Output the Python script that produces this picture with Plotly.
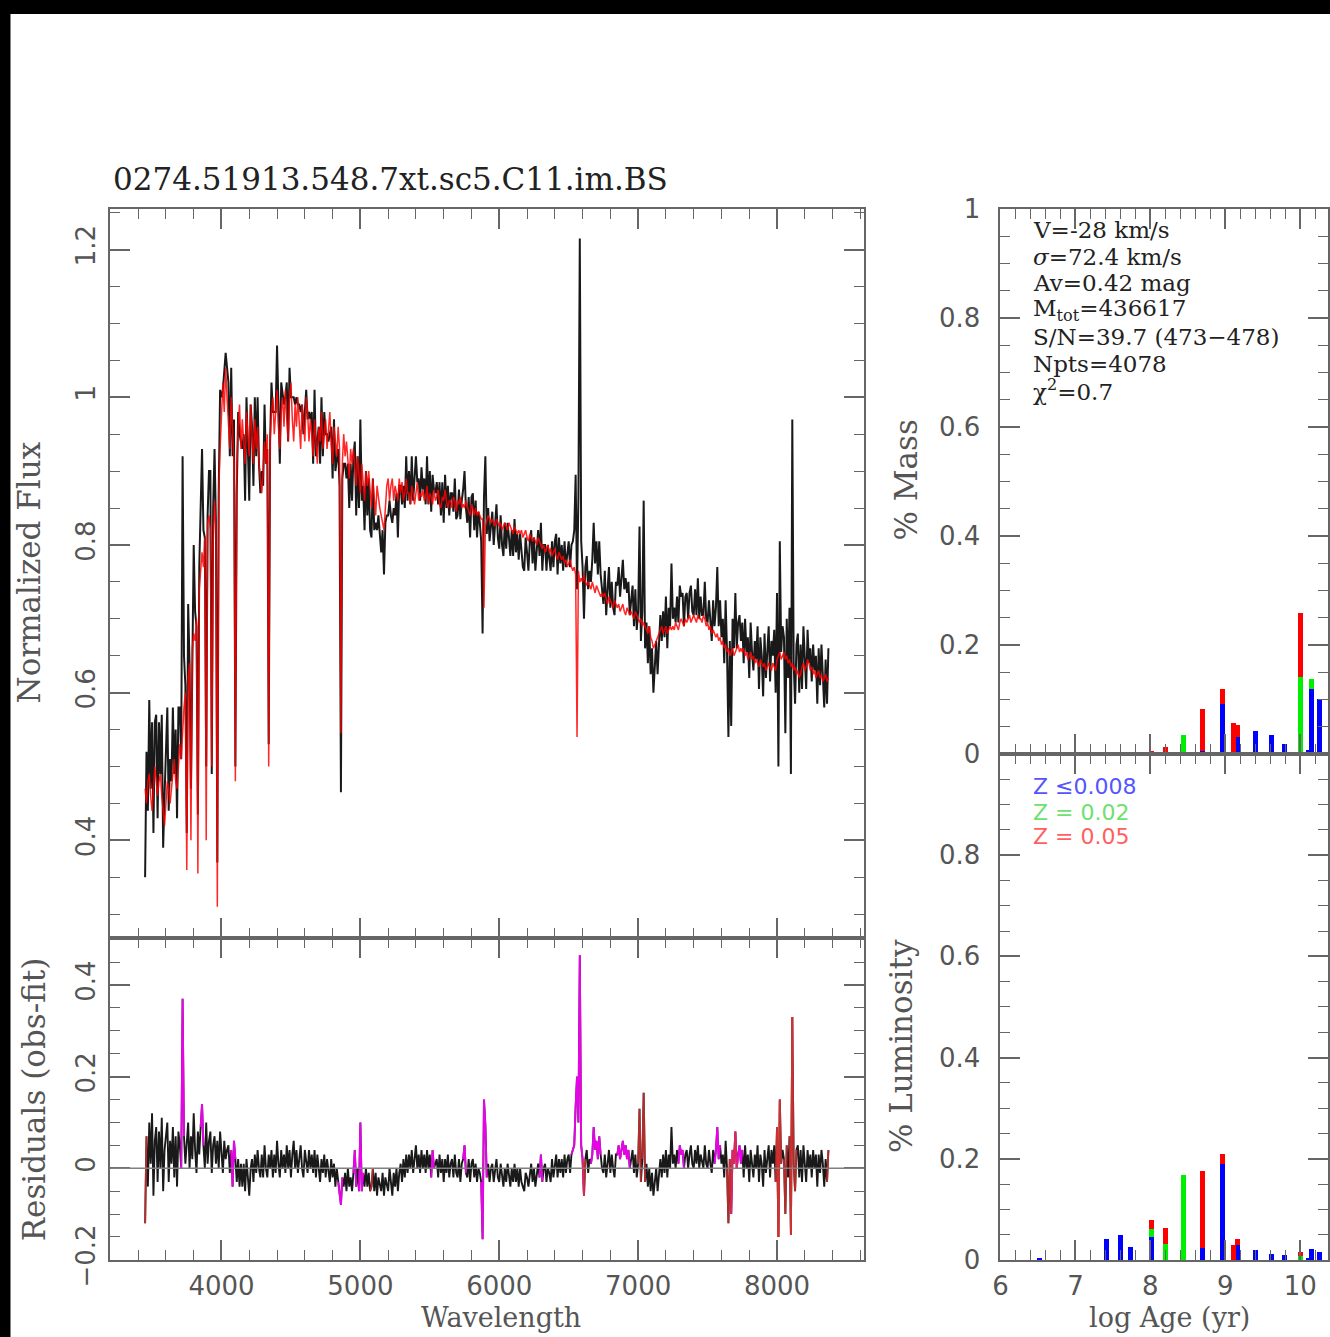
import plotly.graph_objects as go

# ---------------------------------------------------------------- spectrum
# wavelength sampling grid (Angstrom)
wave = list(range(3450, 8380, 10))

# best-fit synthetic spectrum (normalized flux), one row per 100 A
model_flux = [
    0.47, 0.45, 0.48, 0.49, 0.46, 0.44, 0.47, 0.50, 0.48, 0.46,
    0.48, 0.49, 0.46, 0.44, 0.42, 0.45, 0.48, 0.47, 0.45, 0.47,
    0.49, 0.51, 0.48, 0.47, 0.50, 0.53, 0.51, 0.55, 0.58, 0.60,
    0.36, 0.62, 0.64, 0.40, 0.66, 0.68, 0.67, 0.70, 0.355, 0.74,
    0.76, 0.79, 0.77, 0.81, 0.40, 0.83, 0.84, 0.82, 0.50, 0.80,
    0.86, 0.82, 0.31, 0.87, 0.93, 0.97, 1.02, 0.98, 1.04, 1.00,
    0.97, 0.93, 1.00, 0.96, 0.91, 0.48, 0.90, 0.96, 0.99, 0.93,
    0.97, 0.94, 0.91, 0.98, 0.95, 0.92, 0.99, 0.94, 0.91, 0.97,
    0.93, 0.96, 0.91, 0.89, 0.87, 0.90, 0.94, 0.91, 0.95, 0.50,
    0.94, 0.98, 1.00, 0.95, 0.99, 1.01, 0.96, 0.93, 0.98, 1.00,
    0.96, 1.01, 0.97, 0.94, 1.00, 1.02, 0.97, 0.94, 0.99, 0.96,
    1.00, 0.96, 0.93, 0.99, 0.97, 0.94, 1.00, 0.98, 0.94, 0.97,
    0.95, 0.92, 0.97, 0.94, 0.91, 0.96, 0.94, 0.98, 0.93, 0.95,
    0.97, 0.93, 0.95, 0.98, 0.94, 0.91, 0.96, 0.94, 0.92, 0.96,
    0.93, 0.545, 0.91, 0.95, 0.92, 0.94, 0.91, 0.89, 0.93, 0.91,
    0.93, 0.90, 0.88, 0.92, 0.90, 0.87, 0.91, 0.89, 0.86, 0.90,
    0.88, 0.90, 0.87, 0.85, 0.89, 0.87, 0.84, 0.88, 0.86, 0.85,
    0.84, 0.83, 0.82, 0.85, 0.88, 0.89, 0.86, 0.88, 0.89, 0.86,
    0.88, 0.87, 0.86, 0.89, 0.87, 0.885, 0.86, 0.87, 0.89, 0.87,
    0.87, 0.855, 0.88, 0.87, 0.855, 0.87, 0.885, 0.86, 0.87, 0.865,
    0.875, 0.86, 0.865, 0.88, 0.855, 0.87, 0.865, 0.855, 0.875, 0.86,
    0.865, 0.875, 0.855, 0.85, 0.865, 0.86, 0.875, 0.86, 0.85, 0.86,
    0.86, 0.85, 0.865, 0.86, 0.845, 0.86, 0.855, 0.865, 0.85, 0.855,
    0.85, 0.86, 0.85, 0.845, 0.84, 0.855, 0.85, 0.84, 0.85, 0.84,
    0.845, 0.84, 0.835, 0.835, 0.715, 0.825, 0.835, 0.84, 0.835, 0.83,
    0.835, 0.83, 0.825, 0.835, 0.83, 0.825, 0.83, 0.82, 0.825, 0.83,
    0.825, 0.82, 0.83, 0.825, 0.82, 0.815, 0.825, 0.82, 0.815, 0.82,
    0.815, 0.82, 0.81, 0.815, 0.82, 0.81, 0.805, 0.815, 0.81, 0.805,
    0.81, 0.805, 0.80, 0.81, 0.805, 0.80, 0.795, 0.80, 0.79, 0.795,
    0.80, 0.79, 0.795, 0.785, 0.79, 0.795, 0.785, 0.78, 0.79, 0.785,
    0.78, 0.785, 0.775, 0.78, 0.77, 0.775, 0.78, 0.77, 0.765, 0.77,
    0.76, 0.54, 0.765, 0.75, 0.755, 0.75, 0.76, 0.75, 0.745, 0.75,
    0.745, 0.74, 0.75, 0.74, 0.735, 0.745, 0.74, 0.735, 0.73, 0.735,
    0.73, 0.735, 0.725, 0.72, 0.73, 0.725, 0.72, 0.715, 0.725, 0.72,
    0.715, 0.72, 0.71, 0.715, 0.72, 0.71, 0.705, 0.715, 0.71, 0.705,
    0.71, 0.705, 0.70, 0.71, 0.705, 0.70, 0.695, 0.70, 0.69, 0.695,
    0.69, 0.685, 0.68, 0.69, 0.675, 0.67, 0.66, 0.665, 0.67, 0.675,
    0.68, 0.685, 0.69, 0.68, 0.685, 0.69, 0.68, 0.685, 0.69, 0.685,
    0.69, 0.685, 0.695, 0.69, 0.685, 0.695, 0.70, 0.695, 0.69, 0.70,
    0.695, 0.70, 0.705, 0.695, 0.70, 0.705, 0.70, 0.695, 0.705, 0.70,
    0.70, 0.695, 0.705, 0.70, 0.69, 0.695, 0.685, 0.69, 0.68, 0.685,
    0.68, 0.675, 0.68, 0.67, 0.675, 0.665, 0.67, 0.66, 0.665, 0.655,
    0.66, 0.65, 0.655, 0.66, 0.65, 0.655, 0.66, 0.665, 0.655, 0.66,
    0.655, 0.66, 0.65, 0.655, 0.645, 0.65, 0.655, 0.645, 0.65, 0.64,
    0.645, 0.64, 0.635, 0.645, 0.64, 0.635, 0.64, 0.63, 0.635, 0.64,
    0.635, 0.63, 0.64, 0.635, 0.63, 0.645, 0.65, 0.655, 0.645, 0.65,
    0.655, 0.645, 0.65, 0.64, 0.645, 0.635, 0.64, 0.63, 0.635, 0.625,
    0.63, 0.62, 0.625, 0.635, 0.64, 0.63, 0.635, 0.645, 0.64, 0.63,
    0.635, 0.625, 0.63, 0.62, 0.625, 0.63, 0.62, 0.625, 0.615, 0.62,
    0.625, 0.615, 0.62,
]

# observed minus fit, same grid
residual = [
    -0.12, 0.07, -0.04, 0.10, 0.01, 0.12, -0.06, 0.06, 0.09, -0.03,
    0.08, 0.00, 0.11, -0.05, 0.04, 0.07, 0.10, -0.03, 0.06, 0.01,
    0.09, -0.02, 0.07, -0.04, 0.08, 0.05, 0.00, 0.37, 0.07, 0.01,
    0.05, 0.10, 0.00, 0.07, 0.02, 0.12, 0.04, -0.01, 0.08, 0.03,
    0.09, 0.14, 0.05, 0.00, 0.10, 0.01, 0.06, 0.08, -0.01, 0.05,
    0.07, 0.01, 0.06, 0.00, 0.08, 0.03, -0.01, 0.06, 0.02, 0.04,
    0.05, -0.01, 0.04, -0.04, 0.06, 0.02, -0.03, 0.02, -0.04, 0.01,
    -0.04, 0.01, -0.05, 0.02, -0.03, -0.06, 0.00, 0.02, -0.03, 0.03,
    -0.01, 0.04, 0.00, -0.02, 0.03, -0.02, 0.05, 0.00, -0.02, 0.03,
    0.00, 0.04, -0.02, 0.03, -0.01, 0.06, 0.01, -0.02, 0.04, 0.00,
    0.03, -0.01, 0.05, 0.00, 0.04, -0.02, 0.03, 0.06, 0.00, 0.04,
    -0.01, 0.03, 0.05, 0.00, -0.02, 0.04, 0.01, -0.01, 0.04, 0.00,
    0.03, -0.01, 0.04, -0.02, 0.03, 0.00, -0.03, 0.02, -0.01, 0.03,
    -0.02, 0.02, -0.01, -0.03, 0.02, -0.02, 0.01, -0.04, 0.00, -0.03,
    -0.05, -0.08, -0.02, -0.04, -0.01, -0.05, 0.00, -0.04, -0.02, -0.05,
    -0.01, 0.04, -0.04, 0.00, -0.05, 0.10, -0.05, -0.01, -0.04, 0.00,
    -0.04, -0.01, -0.05, -0.04, 0.00, -0.05, -0.01, -0.06, -0.02, -0.04,
    -0.05, -0.01, -0.06, -0.02, -0.04, -0.05, 0.00, -0.04, -0.06, -0.01,
    -0.04, 0.00, -0.05, -0.01, 0.01, -0.03, 0.02, -0.02, 0.03, -0.01,
    0.03, 0.00, 0.04, -0.01, 0.03, 0.05, 0.00, 0.03, -0.01, 0.04,
    0.00, 0.03, -0.01, 0.04, 0.00, 0.03, -0.02, 0.04, 0.00, 0.01,
    0.02, -0.02, 0.03, -0.01, 0.02, -0.03, 0.02, -0.01, 0.03, -0.02,
    0.01, 0.02, -0.02, 0.03, -0.01, -0.02, 0.02, -0.03, 0.01, 0.02,
    0.05, -0.01, -0.02, 0.02, -0.03, 0.01, 0.02, -0.02, 0.01, -0.03,
    0.00, -0.01, -0.03, -0.155, 0.15, 0.095, -0.02, 0.01, -0.03, 0.00,
    0.01, -0.03, 0.00, 0.02, -0.02, -0.03, 0.01, -0.02, -0.04, 0.00,
    -0.03, 0.01, -0.02, -0.04, 0.00, -0.03, 0.01, -0.03, 0.00, -0.04,
    0.00, -0.03, -0.04, -0.05, -0.01, -0.02, -0.04, -0.01, 0.01, -0.03,
    0.00, -0.04, -0.01, 0.01, -0.02, 0.03, -0.03, 0.00, 0.01, -0.03,
    0.00, -0.01, -0.03, 0.02, -0.02, 0.01, 0.03, -0.02, 0.02, -0.01,
    0.02, -0.02, 0.03, -0.01, 0.02, 0.03, -0.01, 0.03, 0.04, 0.05,
    0.135, 0.20, 0.10, 0.465, 0.05, 0.02, -0.06, 0.02, 0.04, -0.01,
    0.02, 0.01, 0.03, 0.09, 0.04, 0.06, 0.02, 0.07, 0.03, 0.00,
    -0.01, 0.03, -0.02, 0.02, 0.04, -0.01, 0.03, 0.00, -0.02, 0.03,
    0.03, 0.05, 0.02, 0.04, 0.06, 0.03, 0.05, 0.02, 0.04, 0.00,
    0.02, 0.04, -0.01, 0.03, -0.02, 0.01, 0.13, -0.03, 0.02, 0.165,
    -0.03, 0.01, -0.04, 0.00, -0.05, -0.01, -0.06, -0.02, 0.00, -0.05,
    -0.01, 0.02, -0.02, 0.03, -0.01, 0.04, -0.02, 0.03, 0.00, 0.09,
    0.01, 0.03, 0.00, 0.04, 0.01, 0.05, 0.03, 0.04, 0.00, 0.03,
    0.04, 0.00, 0.03, 0.05, 0.01, 0.00, 0.04, 0.01, 0.05, 0.00,
    0.03, 0.01, 0.00, 0.05, 0.01, 0.00, 0.04, 0.01, -0.01, 0.04,
    0.01, 0.04, 0.09, 0.02, 0.05, 0.01, 0.03, -0.02, 0.06, 0.00,
    -0.12, 0.02, -0.10, 0.04, 0.01, 0.08, 0.00, 0.03, 0.05, 0.01,
    0.04, -0.02, 0.05, 0.00, 0.03, -0.03, 0.04, 0.01, -0.02, 0.03,
    0.00, 0.05, -0.03, 0.03, 0.01, -0.04, 0.04, -0.01, 0.02, 0.05,
    -0.02, 0.04, 0.01, 0.05, -0.03, 0.09, -0.15, 0.15, 0.01, 0.04,
    0.02, -0.10, 0.05, -0.02, 0.07, -0.145, 0.33, 0.01, -0.05, 0.04,
    0.05, -0.02, 0.04, -0.03, 0.05, 0.01, -0.03, 0.04, 0.00, 0.03,
    -0.02, 0.04, 0.00, 0.03, -0.04, 0.03, -0.01, 0.04, 0.01, -0.04,
    0.02, -0.03, 0.04,
]

# observed spectrum = fit + residual
obs_flux = [m + r for m, r in zip(model_flux, residual)]

# wavelength windows excluded from the fit (emission lines, sky bands)
masked_windows = [
    (3720, 3720), (3860, 3860), (4080, 4090), (4850, 4860), (4960, 4960),
    (5000, 5010), (5520, 5520), (5750, 5750), (5880, 5900), (6300, 6300),
    (6530, 6600), (6670, 6720), (6860, 6930), (7300, 7320), (7560, 7580),
    (7680, 7740),
]
# pixels rejected by sigma clipping
clipped_waves = [3450, 5080, 6610, 7010, 7040, 7650, 7670, 7700,
                 8000, 8010, 8020, 8060, 8100, 8110, 8130, 8370]

# ---------------------------------------------------------------- populations
log_age = [6.52, 7.41, 7.60, 7.73, 8.01, 8.20, 8.44, 8.70, 8.96,
           9.11, 9.16, 9.40, 9.62, 9.79, 10.00, 10.11, 10.15, 10.26]
mass_z008 = [0, 0.002, 0.002, 0.001, 0.003, 0, 0, 0.005, 0.092,
             0, 0.031, 0.042, 0.035, 0.019, 0, 0.008, 0.119, 0.101]
mass_z02 = [0, 0, 0, 0, 0, 0.003, 0.034, 0, 0,
            0, 0, 0, 0, 0, 0.141, 0, 0.019, 0]
mass_z05 = [0, 0, 0, 0, 0.003, 0.010, 0, 0.078, 0.027,
            0.057, 0.022, 0, 0, 0, 0.118, 0, 0, 0]
lum_z008 = [0.002, 0.042, 0.049, 0.026, 0.045, 0, 0, 0.024, 0.190,
            0, 0.029, 0.020, 0.012, 0.009, 0, 0.003, 0.022, 0.016]
lum_z02 = [0, 0, 0, 0, 0.017, 0.032, 0.167, 0, 0,
           0, 0, 0, 0, 0, 0.008, 0, 0, 0]
lum_z05 = [0, 0, 0, 0, 0.016, 0.031, 0, 0.151, 0.020,
           0.030, 0.012, 0, 0, 0, 0.008, 0, 0, 0]

fit_info = ["V=-28 km/s", "<i>σ</i>=72.4 km/s", "Av=0.42 mag",
            "M<sub>tot</sub>=436617", "S/N=39.7 (473−478)", "Npts=4078",
            "χ<sup>2</sup>=0.7"]
z_labels = ["Z ≤0.008", "Z = 0.02", "Z = 0.05"]
object_name = "0274.51913.548.7xt.sc5.C11.im.BS"

# ---------------------------------------------------------------- figure
W, H = 1330, 1368
AX = "#666666"
TICKFONT = dict(family="DejaVu Sans", size=26, color="#555555")
SERIF = "DejaVu Serif"


def fx(p):
    """figure pixel (from left) -> paper x"""
    return p / W


def fy(p):
    """figure pixel (from top) -> paper y"""
    return 1 - p / H


fig = go.Figure()

# upper-left: observed + model spectrum
fig.add_trace(go.Scatter(x=wave, y=obs_flux, mode="lines",
                         line=dict(color="rgba(0,0,0,0.9)", width=2.0),
                         xaxis="x", yaxis="y", hoverinfo="skip"))
fig.add_trace(go.Scatter(x=wave, y=model_flux, mode="lines",
                         line=dict(color="rgba(255,0,0,0.85)", width=1.5),
                         xaxis="x", yaxis="y", hoverinfo="skip"))

# lower-left: residuals
n = len(wave)
fig.add_trace(go.Scatter(x=wave, y=residual, mode="lines",
                         line=dict(color="rgba(0,0,0,0.9)", width=1.9),
                         xaxis="x2", yaxis="y2", hoverinfo="skip"))


def path_through(groups):
    xs, ys = [], []
    for g in groups:
        lo = max(g[0] - 1, 0)
        hi = min(g[-1] + 1, n - 1)
        xs += wave[lo:hi + 1] + [None]
        ys += residual[lo:hi + 1] + [None]
    return xs, ys


mask_groups = [[i for i in range(n) if a <= wave[i] <= b] for a, b in masked_windows]
clip_groups = [[wave.index(w)] for w in clipped_waves]

mx, my = path_through(mask_groups)
fig.add_trace(go.Scatter(x=mx, y=my, mode="lines",
                         line=dict(color="rgba(255,0,255,0.9)", width=1.9),
                         xaxis="x2", yaxis="y2", hoverinfo="skip"))
cx, cy = path_through(clip_groups)
fig.add_trace(go.Scatter(x=cx, y=cy, mode="lines",
                         line=dict(color="rgba(215,50,50,0.8)", width=1.9),
                         xaxis="x2", yaxis="y2", hoverinfo="skip"))

# right: population bars stacked by metallicity
bar_w = 0.07
for vals, col, ax in [(mass_z008, "#0000ff", ("x3", "y3")),
                      (mass_z02, "#00ee00", ("x3", "y3")),
                      (mass_z05, "#ff0000", ("x3", "y3")),
                      (lum_z008, "#0000ff", ("x4", "y4")),
                      (lum_z02, "#00ee00", ("x4", "y4")),
                      (lum_z05, "#ff0000", ("x4", "y4"))]:
    fig.add_trace(go.Bar(x=log_age, y=vals, width=bar_w,
                         marker=dict(color=col, line=dict(width=0)),
                         xaxis=ax[0], yaxis=ax[1], hoverinfo="skip"))


def axis(domain, rng, dtick, minor, anchor, labels=True, **kw):
    d = dict(domain=domain, range=rng, anchor=anchor, dtick=dtick, tick0=0,
             ticks="inside", ticklen=20, tickwidth=1.6, tickcolor=AX,
             minor=dict(ticks="inside", ticklen=10, dtick=minor, tick0=0,
                        tickwidth=1.4, tickcolor=AX, showgrid=False),
             showline=True, linecolor=AX, linewidth=2, mirror="allticks",
             showgrid=False, zeroline=False, showticklabels=labels,
             tickfont=TICKFONT)
    d.update(kw)
    return d


LX = [fx(103), fx(861)]
RX = [fx(998.5), fx(1328)]
spec_range = [3200, 8625]
TOP, MID_L, MID_R, BOT = 200.2, 952.8, 762.9, 1285.3

fig.update_layout(
    width=W, height=H, autosize=False,
    margin=dict(l=0, r=0, t=0, b=0),
    paper_bgcolor="white", plot_bgcolor="white",
    showlegend=False, barmode="stack",
    xaxis=axis(LX, spec_range, 1000, 200, "y", labels=False),
    yaxis=axis([fy(MID_L), fy(TOP)], [0.268, 1.255], 0.2, 0.05, "x",
               tickangle=-90, ticklabelstandoff=3),
    xaxis2=axis(LX, spec_range, 1000, 200, "y2", ticklabelstandoff=2),
    yaxis2=axis([fy(BOT), fy(MID_L)], [-0.2, 0.503], 0.2, 0.05, "x2",
                tickangle=-90, ticklabelstandoff=3),
    xaxis3=axis(RX, [6, 10.37], 1, 0.2, "y3", labels=False),
    yaxis3=axis([fy(MID_R), fy(TOP)], [0, 1], 0.2, 0.05, "x3",
                ticklabelstandoff=13),
    xaxis4=axis(RX, [6, 10.37], 1, 0.2, "y4", ticklabelstandoff=2),
    yaxis4=axis([fy(BOT), fy(MID_R)], [0, 1], 0.2, 0.05, "x4",
                tickmode="array", tickvals=[0, 0.2, 0.4, 0.6, 0.8],
                ticklabelstandoff=13),
)

# zero line of the residual panel
fig.add_shape(type="line", xref="x2 domain", yref="y2", x0=0, x1=1, y0=0, y1=0,
              line=dict(color="#808080", width=1.6))

# dark border strips along the top and left edges
fig.add_shape(type="rect", xref="paper", yref="paper", x0=-0.05, x1=1.05,
              y0=fy(-1.1), y1=fy(-40), fillcolor="black", line=dict(width=0))
fig.add_shape(type="rect", xref="paper", yref="paper", x0=fx(-40), x1=fx(2.5),
              y0=-0.05, y1=1.05, fillcolor="black", line=dict(width=0))

ann = []
ann.append(dict(text=object_name, x=fx(104), y=fy(169), xanchor="left",
                yanchor="middle", font=dict(family=SERIF, size=31, color="#222222")))
for i, t in enumerate(fit_info):
    ann.append(dict(text=t, x=fx(1029), y=fy(222 + i * 27.6), xanchor="left",
                    yanchor="middle", font=dict(family=SERIF, size=23, color="#222222")))
for t, c, yy in zip(z_labels, ["rgb(85,85,255)", "rgb(110,225,110)", "rgb(255,95,95)"],
                    [797, 823, 848.5]):
    ann.append(dict(text=t, x=fx(1029), y=fy(yy), xanchor="left",
                    yanchor="middle", font=dict(family="DejaVu Sans", size=22, color=c)))

titles = [("Normalized Flux", 20.6, 575, -90, 31),
          ("Residuals (obs-fit)", 25.6, 1119, -90, 31),
          ("Wavelength", 496, 1345, 0, 27),
          ("log Age (yr)", 1169, 1345, 0, 27),
          ("% Mass", 903, 480, -90, 31),
          ("% Luminosity", 898, 1065, -90, 31)]
for t, x, y, a, s in titles:
    ann.append(dict(text=t, x=fx(x), y=fy(y), xanchor="center", yanchor="middle",
                    textangle=a, font=dict(family=SERIF, size=s, color="#555555")))

for a in ann:
    a.update(xref="paper", yref="paper", showarrow=False)
fig.update_layout(annotations=ann)

fig.write_html("out.html")
